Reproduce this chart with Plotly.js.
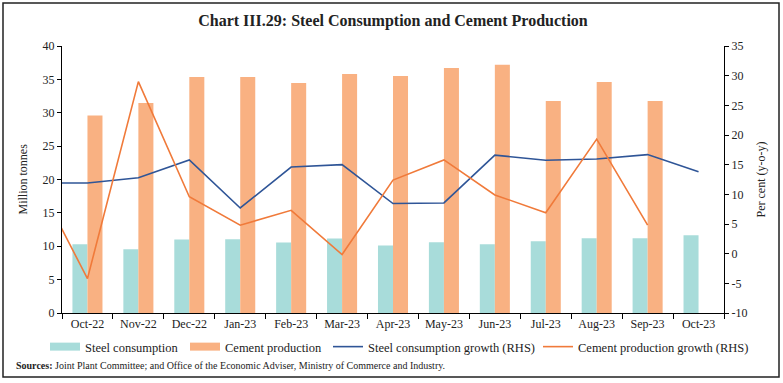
<!DOCTYPE html>
<html>
<head>
<meta charset="utf-8">
<script src="https://cdn.plot.ly/plotly-3.0.1.min.js"></script>
<style>html,body{margin:0;padding:0;background:#fff;}#chart{width:783px;height:383px;}</style>
</head>
<body>
<div id="chart"></div>
<script>
// Categories (Sep-22 only carries the clipped lead-in of the growth lines)
const months = ["Oct-22","Nov-22","Dec-22","Jan-23","Feb-23","Mar-23","Apr-23","May-23","Jun-23","Jul-23","Aug-23","Sep-23","Oct-23"];
const lineMonths = ["Sep-22","Oct-22","Nov-22","Dec-22","Jan-23","Feb-23","Mar-23","Apr-23","May-23","Jun-23","Jul-23","Aug-23","Sep-23","Oct-23"];
const allCategories = ["Sep-22"].concat(months);

// Million tonnes
const steelConsumption = [10.3, 9.55, 11.0, 11.05, 10.55, 11.15, 10.1, 10.6, 10.3, 10.75, 11.2, 11.2, 11.65];
const cementProduction = [29.6, 31.45, 35.35, 35.35, 34.45, 35.8, 35.5, 36.7, 37.2, 31.75, 34.6, 31.75, null];

// Per cent (y-o-y), RHS
const steelGrowth = [11.9, 11.9, 12.8, 15.8, 7.7, 14.6, 15.0, 8.45, 8.55, 16.6, 15.75, 15.95, 16.7, 13.8];
const cementGrowth = [12.4, -4.2, 29.0, 9.6, 4.8, 7.3, -0.15, 12.4, 15.8, 9.9, 6.9, 19.3, 4.8, null];

// Axis tick labels
const leftTicks = [0, 5, 10, 15, 20, 25, 30, 35, 40];
const rightTicks = [-10, -5, 0, 5, 10, 15, 20, 25, 30, 35];
const rightTickText = ["-10", "-5", "0", "5", "10", "15", "20", "25", "30", "35"];

const FONT = "Liberation Serif, Times New Roman, serif";
const C_STEEL = "#A8DCDA", C_CEMENT = "#F9B182", C_SG = "#2F5597", C_CG = "#F07A3A";

const traces = [
  {type:"bar", name:"Steel consumption", x:months, y:steelConsumption, marker:{color:C_STEEL}, yaxis:"y", showlegend:false},
  {type:"bar", name:"Cement production", x:months, y:cementProduction, marker:{color:C_CEMENT}, yaxis:"y", showlegend:false},
  {type:"scatter", mode:"lines", name:"Steel consumption growth (RHS)", x:lineMonths, y:steelGrowth, yaxis:"y2", line:{color:C_SG, width:1.6}, legend:"legend3"},
  {type:"scatter", mode:"lines", name:"Cement production growth (RHS)", x:lineMonths, y:cementGrowth, yaxis:"y2", line:{color:C_CG, width:1.6}, legend:"legend4"},
  // legend swatches for the bar series (wide rectangles like the reference)
  {type:"scatter", mode:"lines", name:"Steel consumption", x:[null], y:[null], yaxis:"y", line:{color:C_STEEL, width:8}, legend:"legend"},
  {type:"scatter", mode:"lines", name:"Cement production", x:[null], y:[null], yaxis:"y", line:{color:C_CEMENT, width:8}, legend:"legend2"}
];

const W = 783, H = 383, L = 62, R = 724, T = 46, B = 313;
const px = v => (v - L) / (R - L);
const py = v => (B - v) / (B - T);

function leg(xText) {
  return {orientation: "h", x: px(xText - 40), xanchor: "left", y: py(347), yanchor: "middle",
          font: {family: FONT, size: 12.5, color: "#222"}, bgcolor: "rgba(0,0,0,0)", borderwidth: 0};
}

const layout = {
  width: W, height: H,
  margin: {l: L, r: W - R, t: T, b: H - B, pad: 0},
  paper_bgcolor: "#fff", plot_bgcolor: "#fff",
  font: {family: FONT, size: 12, color: "#222"},
  title: {text: "<b>Chart III.29: Steel Consumption and Cement Production</b>", font: {family: FONT, size: 16, color: "#222"}, x: 0.5, xanchor: "center", xref: "paper", y: 1 - 20 / H, yanchor: "middle", yref: "container"},
  showlegend: true,
  legend: leg(85), legend2: leg(225), legend3: leg(368), legend4: leg(578),
  barmode: "group", bargap: 0.41, bargroupgap: 0,
  xaxis: {
    type: "category", categoryorder: "array", categoryarray: allCategories,
    range: [0.5, 13.5], showgrid: false, zeroline: false,
    showline: true, linecolor: "#000", linewidth: 1,
    ticks: "outside", tickson: "boundaries", ticklen: 5, tickcolor: "#000",
    tickfont: {family: FONT, size: 12, color: "#222"}
  },
  yaxis: {
    range: [0, 40], tickmode: "array", tickvals: leftTicks, showgrid: false, zeroline: false,
    showline: true, linecolor: "#000", linewidth: 1,
    ticks: "outside", ticklen: 4, tickcolor: "#000",
    tickfont: {family: FONT, size: 12, color: "#222"}
  },
  yaxis2: {
    overlaying: "y", side: "right", range: [-10, 35], tickmode: "array", tickvals: rightTicks, ticktext: rightTickText,
    showgrid: false, zeroline: false,
    showline: true, linecolor: "#000", linewidth: 1,
    ticks: "outside", ticklen: 4, tickcolor: "#000",
    tickfont: {family: FONT, size: 12, color: "#222"}
  },
  annotations: [
    {text: "Million tonnes", xref: "paper", yref: "paper", x: px(22), y: 0.5, textangle: -90, showarrow: false, xanchor: "center", yanchor: "middle", font: {family: FONT, size: 12, color: "#222"}},
    {text: "Per cent (y-o-y)", xref: "paper", yref: "paper", x: px(760), y: 0.5, textangle: -90, showarrow: false, xanchor: "center", yanchor: "middle", font: {family: FONT, size: 12, color: "#222"}},
    {text: "<b>Sources:</b> Joint Plant Committee; and Office of the Economic Adviser, Ministry of Commerce and Industry.", xref: "paper", yref: "paper", x: px(14), y: py(365), xanchor: "left", yanchor: "middle", showarrow: false, font: {family: FONT, size: 10, color: "#222"}}
  ],
  shapes: [
    {type: "rect", xref: "paper", yref: "paper", x0: px(3), x1: px(779), y0: py(377), y1: py(3), line: {color: "#222", width: 1.5}, fillcolor: "rgba(0,0,0,0)", layer: "below"}
  ]
};

Plotly.newPlot("chart", traces, layout, {displayModeBar: false, staticPlot: true});
</script>
</body>
</html>
